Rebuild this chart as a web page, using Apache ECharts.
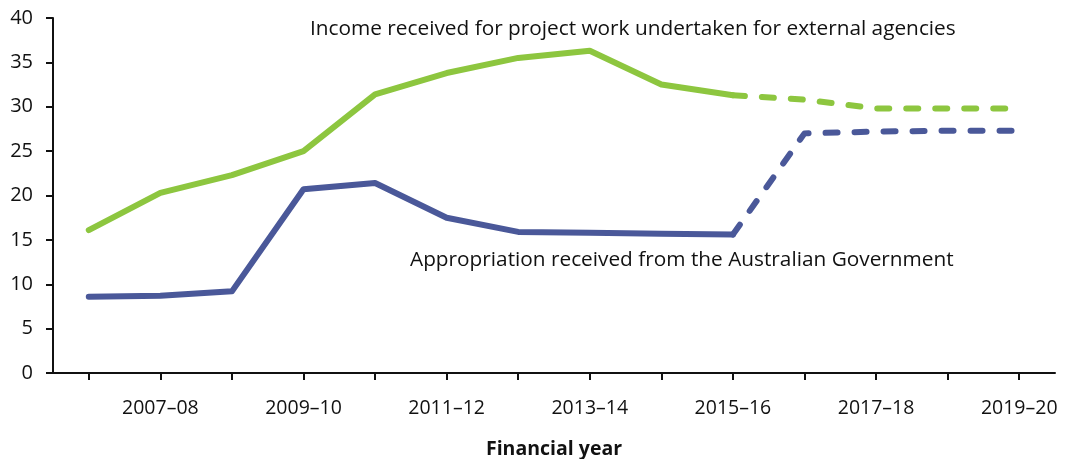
<!DOCTYPE html>
<html>
<head>
<meta charset="utf-8">
<script src="https://cdn.jsdelivr.net/npm/echarts@6/dist/echarts.min.js"></script>
<style>
  html, body { margin: 0; padding: 0; background: #fff; }
  #chart { width: 1071px; height: 459px; }
</style>
</head>
<body>
<div id="chart"></div>
<script>
  const years = ['2006–07', '2007–08', '2008–09', '2009–10', '2010–11', '2011–12', '2012–13',
    '2013–14', '2014–15', '2015–16', '2016–17', '2017–18', '2018–19', '2019–20'];
  // actuals up to 2015–16, estimates after (dashed)
  const incomeActual = [16.1, 20.3, 22.3, 25.0, 31.4, 33.8, 35.5, 36.3, 32.5, 31.3, null, null, null, null];
  const incomeEstimate = [null, null, null, null, null, null, null, null, null, 31.3, 30.8, 29.8, 29.8, 29.8];
  const approActual = [8.6, 8.7, 9.2, 20.7, 21.4, 17.5, 15.9, 15.8, 15.7, 15.6, null, null, null, null];
  const approEstimate = [null, null, null, null, null, null, null, null, null, 15.6, 27.0, 27.2, 27.3, 27.3];

  const green = '#8dc63f';
  const blue = '#4a5899';
  const font = 'Open Sans';

  const chart = echarts.init(document.getElementById('chart'));
  chart.setOption({
    animation: false,
    textStyle: { fontFamily: font },
    grid: { left: 53, right: 16, top: 18, bottom: 86, outerBoundsMode: 'none', containLabel: false },
    xAxis: {
      type: 'category',
      data: years,
      boundaryGap: true,
      name: 'Financial year',
      nameLocation: 'middle',
      nameGap: 66,
      nameTextStyle: { fontWeight: 'bold', fontSize: 19.5, color: '#111' },
      axisLine: { lineStyle: { color: '#111', width: 2 } },
      axisTick: { show: true, alignWithLabel: true, interval: 0, length: 7, lineStyle: { color: '#111', width: 2 } },
      axisLabel: {
        interval: (i) => i % 2 === 1,
        fontSize: 19.5, color: '#111', margin: 25
      }
    },
    yAxis: {
      type: 'value',
      min: 0, max: 40, interval: 5,
      axisLine: { show: true, lineStyle: { color: '#111', width: 2 } },
      axisTick: { show: true, length: 7, lineStyle: { color: '#111', width: 2 } },
      axisLabel: { fontSize: 20, color: '#111', margin: 20 },
      splitLine: { show: false }
    },
    series: [
      {
        type: 'line', data: incomeActual, symbol: 'none',
        lineStyle: { color: green, width: 6, cap: 'round', join: 'round' }
      },
      {
        type: 'line', data: incomeEstimate, symbol: 'none',
        lineStyle: { color: green, width: 6, type: [12, 17], cap: 'round', join: 'round' }
      },
      {
        type: 'line', data: approActual, symbol: 'none',
        lineStyle: { color: blue, width: 6, cap: 'round', join: 'round' }
      },
      {
        type: 'line', data: approEstimate, symbol: 'none',
        lineStyle: { color: blue, width: 6, type: [12, 17], cap: 'round', join: 'round' }
      }
    ],
    graphic: [
      {
        type: 'text', left: 310, top: 19,
        style: { text: 'Income received for project work undertaken for external agencies', font: '20.8px "Open Sans"', fill: '#111' }
      },
      {
        type: 'text', left: 410, top: 250,
        style: { text: 'Appropriation received from the Australian Government', font: '20.8px "Open Sans"', fill: '#111' }
      }
    ]
  });
</script>
</body>
</html>
